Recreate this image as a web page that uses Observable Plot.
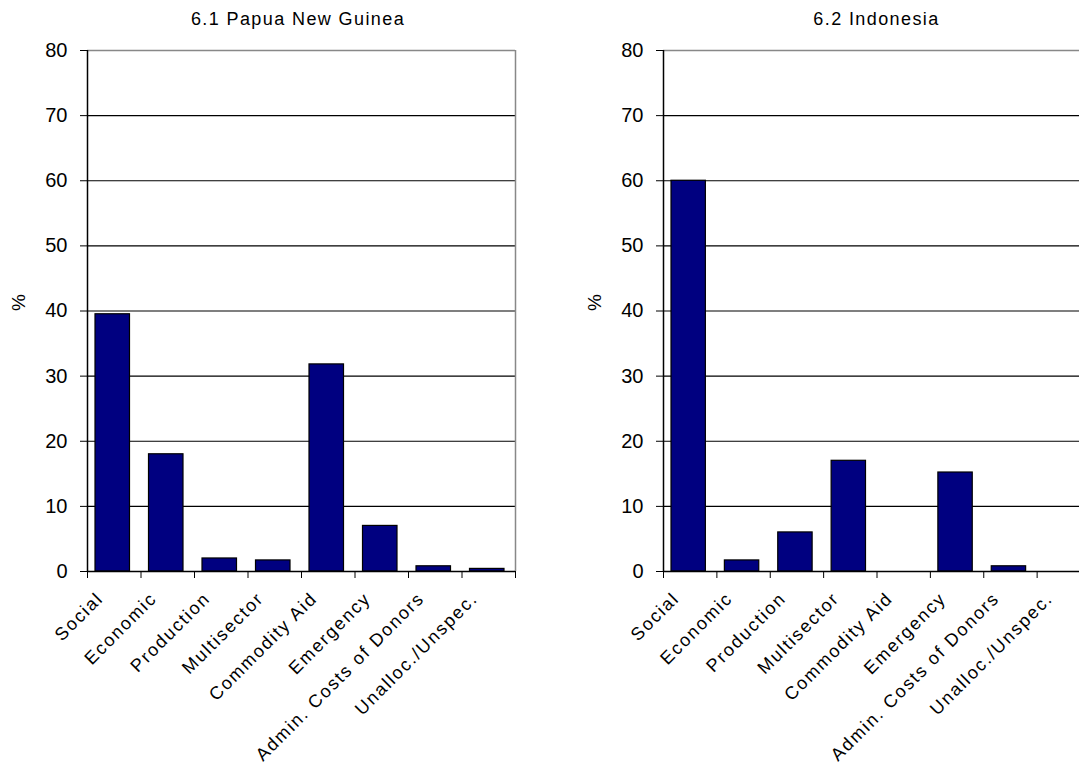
<!DOCTYPE html>
<html>
<head>
<meta charset="utf-8">
<script src="https://cdn.jsdelivr.net/npm/d3@7"></script>
<script src="https://cdn.jsdelivr.net/npm/@observablehq/plot@0.6"></script>
<style>
  body { margin: 0; background: #fff; font-family: Arial, "Liberation Sans", sans-serif; }
  #wrap { position: relative; width: 1079px; height: 774px; overflow: hidden; background: #fff; }
  .title { position: absolute; top: 9px; text-align: center; font-size: 18px; letter-spacing: 1.4px; color: #000; }
  .panel { position: absolute; top: 30px; width: 540px; height: 744px; }
  .panel svg { max-width: none !important; overflow: visible; }
</style>
</head>
<body>
<div id="wrap">
  <div class="title" style="left:84px;width:428px;">6.1 Papua New Guinea</div>
  <div class="title" style="left:663px;width:427px;">6.2 Indonesia</div>
  <div class="panel" id="left" style="left:0px;"></div>
  <div class="panel" id="right" style="left:560px;"></div>
</div>
<script>
const categories = ["Social", "Economic", "Production", "Multisector", "Commodity Aid", "Emergency", "Admin. Costs of Donors", "Unalloc./Unspec."];
const pngValues = [39.5, 18, 2, 1.7, 31.8, 7, 0.8, 0.4];
const indonesiaValues = [60, 1.7, 6, 17, 0, 15.2, 0.8, 0];
const yTicks = [0, 10, 20, 30, 40, 50, 60, 70, 80];

function panel(values, marginLeft, marginRight) {
  const data = categories.map((name, i) => ({name, i, value: values[i]}));
  return Plot.plot({
    width: 540,
    height: 744,
    marginTop: 20,
    marginBottom: 203,
    marginLeft,
    marginRight,
    style: {fontFamily: "Arial, 'Liberation Sans', sans-serif", fontSize: "20px", color: "#000", background: "transparent"},
    x: {type: "linear", domain: [0, categories.length]},
    y: {domain: [0, 80]},
    marks: [
      Plot.ruleY(yTicks.filter(t => t > 0 && t < 80), {stroke: "#000", strokeWidth: 1.2}),
      Plot.ruleY([80], {stroke: "#888", strokeWidth: 1.5}),
      Plot.ruleX([categories.length], {stroke: "#888", strokeWidth: 1.5}),
      Plot.rectY(data.filter(d => d.value > 0), {
        x1: "i", x2: d => d.i + 1, y: "value",
        fill: "#000080", stroke: "#000", strokeWidth: 1.2,
        insetLeft: 8, insetRight: 11
      }),
      Plot.ruleX([0], {stroke: "#000", strokeWidth: 1.5}),
      Plot.ruleY([0], {stroke: "#000", strokeWidth: 1.5}),
      Plot.axisY({ticks: yTicks, tickSize: 7, tickPadding: 13, fontSize: 20, label: null, stroke: "#000"}),
      Plot.axisX({ticks: d3.range(categories.length + 1), tickSize: 7, tickFormat: () => "", label: null}),
      Plot.text(data, {
        x: d => d.i + 0.5, y: 0, text: "name", rotate: -45, textAnchor: "end",
        dx: -14, dy: 24, fontSize: 18, fill: "#000"
      }),
      Plot.text(["%"], {frameAnchor: "left", dx: -69, rotate: -90, fontSize: 19, fill: "#000"})
    ]
  });
}

document.getElementById("left").append(panel(pngValues, 87, 25));
document.getElementById("right").append(panel(indonesiaValues, 103, 10));
document.querySelectorAll(".panel text").forEach(t => {
  if (t.textContent.length > 3) t.style.letterSpacing = "1.8px";
});
</script>
</body>
</html>
